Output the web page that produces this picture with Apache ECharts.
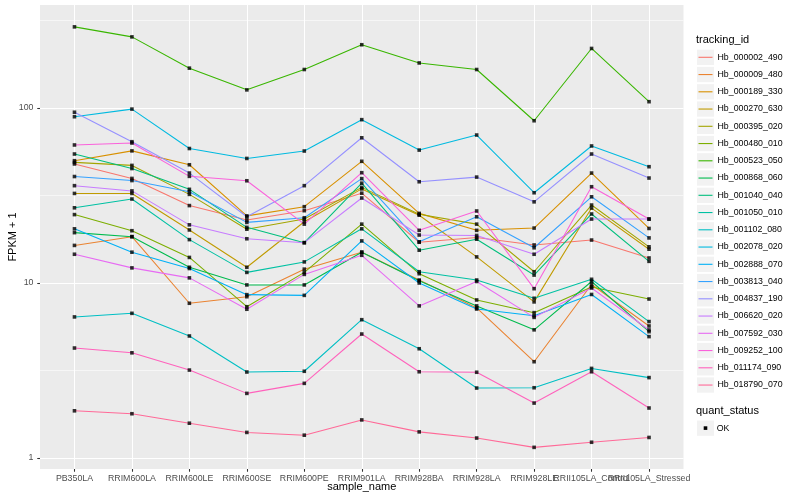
<!DOCTYPE html>
<html>
<head>
<meta charset="utf-8">
<script src="https://cdn.jsdelivr.net/npm/echarts@6/dist/echarts.min.js"></script>
<style>html,body{margin:0;padding:0;background:#fff}#c{width:800px;height:500px}</style>
</head>
<body>
<div id="c"></div>
<script>
const categories = ['PB350LA','RRIM600LA','RRIM600LE','RRIM600SE','RRIM600PE','RRIM901LA','RRIM928BA','RRIM928LA','RRIM928LE','RRII105LA_Control','RRII105LA_Stressed'];
const seriesNames = ['Hb_000002_490','Hb_000009_480','Hb_000189_330','Hb_000270_630','Hb_000395_020','Hb_000480_010','Hb_000523_050','Hb_000868_060','Hb_001040_040','Hb_001050_010','Hb_001102_080','Hb_002078_020','Hb_002888_070','Hb_003813_040','Hb_004837_190','Hb_006620_020','Hb_007592_030','Hb_009252_100','Hb_011174_090','Hb_018790_070'];
const yMajorTicks = [1, 10, 100];
const yMinorTicks = [3.1623, 31.623, 316.23];
const yTickLabels = ['1', '10', '100'];

const hb_000002_490 = [47.9, 39.6, 27.7, 22.9, 25.9, 32.6, 17.1, 18.2, 16.5, 17.6, 13.9];
const hb_000009_480 = [16.4, 18.4, 7.66, 8.35, 12.0, 15.0, 10.4, 7.2, 3.55, 9.8, 5.68];
const hb_000189_330 = [50.0, 56.9, 47.4, 24.2, 27.3, 49.6, 25.0, 20.0, 20.6, 42.5, 20.5];
const hb_000270_630 = [32.5, 32.5, 20.1, 12.3, 22.4, 34.5, 24.4, 14.1, 7.8, 26.8, 15.6];
const hb_000395_020 = [48.9, 47.0, 32.1, 20.3, 23.2, 35.2, 24.7, 21.7, 11.6, 27.9, 16.1];
const hb_000480_010 = [24.6, 19.9, 14.0, 7.32, 11.5, 21.7, 11.3, 8.0, 6.77, 9.5, 8.1];
const hb_000523_050 = [291, 255, 169, 127, 166, 230, 181, 166, 84.6, 219, 108.7];
const hb_000868_060 = [19.4, 18.4, 12.3, 9.75, 9.75, 15.0, 10.3, 7.4, 5.4, 10.2, 5.27];
const hb_001040_040 = [54.6, 45.1, 34.3, 20.8, 17.0, 37.2, 15.4, 17.8, 11.1, 24.8, 13.3];
const hb_001050_010 = [26.9, 30.2, 17.7, 11.5, 13.2, 20.4, 11.6, 10.4, 8.18, 10.5, 6.02];
const hb_001102_080 = [6.40, 6.71, 4.98, 3.10, 3.13, 6.17, 4.21, 2.51, 2.52, 3.25, 2.88];
const hb_002078_020 = [89.2, 98.6, 58.7, 51.5, 56.8, 85.8, 57.5, 70.1, 32.8, 60.7, 46.2];
const hb_002888_070 = [20.4, 15.0, 12.1, 8.58, 8.5, 17.4, 10.0, 7.1, 6.5, 8.6, 4.94];
const hb_003813_040 = [40.6, 38.5, 33.2, 22.2, 23.6, 39.5, 17.2, 23.9, 15.9, 31.1, 18.1];
const hb_004837_190 = [94.6, 64.2, 42.5, 23.9, 36.0, 67.6, 37.9, 40.3, 29.1, 54.6, 39.8];
const hb_006620_020 = [36.0, 33.6, 21.5, 17.9, 17.0, 30.6, 18.8, 18.7, 14.6, 23.2, 23.2];
const hb_007592_030 = [14.6, 12.2, 10.7, 7.08, 11.2, 14.4, 7.4, 10.2, 6.36, 9.36, 5.39];
const hb_009252_100 = [61.5, 63.1, 40.7, 38.4, 21.7, 42.7, 20.0, 25.8, 9.28, 35.5, 23.2];
const hb_011174_090 = [4.25, 3.99, 3.18, 2.34, 2.67, 5.11, 3.11, 3.09, 2.06, 3.11, 1.93];
const hb_018790_070 = [1.86, 1.79, 1.58, 1.40, 1.35, 1.65, 1.41, 1.30, 1.15, 1.23, 1.31];

const seriesValues = [hb_000002_490, hb_000009_480, hb_000189_330, hb_000270_630, hb_000395_020, hb_000480_010, hb_000523_050, hb_000868_060, hb_001040_040, hb_001050_010, hb_001102_080, hb_002078_020, hb_002888_070, hb_003813_040, hb_004837_190, hb_006620_020, hb_007592_030, hb_009252_100, hb_011174_090, hb_018790_070];

// ggplot2 hue palette (HCL, c=100, l=65)
function hcl(h, c, l) {
  const hr = h * Math.PI / 180;
  const U = c * Math.cos(hr), V = c * Math.sin(hr);
  const Xn = 95.047, Yn = 100, Zn = 108.883;
  const un = 4 * Xn / (Xn + 15 * Yn + 3 * Zn), vn = 9 * Yn / (Xn + 15 * Yn + 3 * Zn);
  const Y = l > 8 ? Yn * Math.pow((l + 16) / 116, 3) : Yn * l / 903.3;
  const u = U / (13 * l) + un, v = V / (13 * l) + vn;
  const X = 9 * Y * u / (4 * v);
  const Z = -X / 3 - 5 * Y + 3 * Y / v;
  const x = X / 100, y = Y / 100, z = Z / 100;
  const lin = [3.240479 * x - 1.537150 * y - 0.498535 * z,
               -0.969256 * x + 1.875992 * y + 0.041556 * z,
               0.055648 * x - 0.204043 * y + 1.057311 * z];
  return '#' + lin.map(t => {
    let g = t <= 0.0031308 ? 12.92 * t : 1.055 * Math.pow(t, 1 / 2.4) - 0.055;
    g = Math.round(Math.max(0, Math.min(1, g)) * 255);
    return g.toString(16).padStart(2, '0');
  }).join('');
}
const n = seriesNames.length;
const colors = seriesNames.map((_, i) => hcl(15 + 360 / n * i, 100, 65));

const FONT = "'Liberation Sans', Arial, Helvetica, sans-serif";
const PL = 40, PT = 5, PR = 683.5, PB = 469;
const LEG_X = 697, LEG_Y0 = 57.3, LEG_STEP = 17.25;

const lineSeries = seriesNames.map((name, s) => ({
  name: name,
  type: 'line',
  xAxisIndex: 0,
  yAxisIndex: 0,
  data: seriesValues[s].map((v, i) => [i, v]),
  color: colors[s],
  showSymbol: false,
  symbol: 'none',
  lineStyle: { width: 1.07, color: colors[s] },
  emphasis: { disabled: true },
  z: 2
}));
const pointData = [];
seriesValues.forEach(arr => arr.forEach((v, i) => pointData.push([i, v])));
const pointSeries = {
  name: 'OK',
  type: 'scatter',
  xAxisIndex: 0,
  yAxisIndex: 0,
  data: pointData,
  symbol: 'rect',
  symbolSize: 3.6,
  itemStyle: { color: '#000' },
  emphasis: { disabled: true },
  z: 3
};

const graphics = [
  { type: 'text', left: 696, top: 34, style: { text: 'tracking_id', font: '11px ' + FONT, fill: '#000' } },
  { type: 'text', x: 12.7, y: 237, rotation: Math.PI / 2, style: { text: 'FPKM + 1', font: '11px ' + FONT, fill: '#000', textAlign: 'center', textVerticalAlign: 'middle' } },
  { type: 'text', x: (PL + PR) / 2, y: 487, style: { text: 'sample_name', font: '11px ' + FONT, fill: '#000', textAlign: 'center', textVerticalAlign: 'middle' } },
  { type: 'text', left: 696, top: 405, style: { text: 'quant_status', font: '11px ' + FONT, fill: '#000' } },
  { type: 'rect', shape: { x: LEG_X, y: 420.5, width: 17, height: 15.3 }, style: { fill: '#F2F2F2' }, z: 0 },
  { type: 'rect', shape: { x: LEG_X + 8.5 - 1.8, y: 428.1 - 1.8, width: 3.6, height: 3.6 }, style: { fill: '#000' }, z: 1 },
  { type: 'text', x: 716.7, y: 428.1, style: { text: 'OK', font: '8.8px ' + FONT, fill: '#000', textVerticalAlign: 'middle' } }
];
seriesNames.forEach((_, i) => {
  graphics.push({ type: 'rect', shape: { x: LEG_X, y: LEG_Y0 + i * LEG_STEP - 7.65, width: 17, height: 15.3 }, style: { fill: '#F2F2F2' }, z: -1 });
});

const tickStyle = { show: true, inside: false, length: 2.75, lineStyle: { color: '#333333', width: 1.07 } };
// x labels split over two coincident axes so that overlapping neighbours are both drawn (as in the reference)
const xIdxA = categories.map((_, i) => i).filter(i => i !== 9);
const xIdxB = [9];
function makeXAxis(vals) {
  return {
    type: 'value', min: -0.6, max: 10.6, position: 'bottom', offset: 0,
    axisLine: { show: false, onZero: false },
    axisTick: Object.assign({}, tickStyle, { customValues: vals }),
    axisLabel: { customValues: vals, formatter: v => categories[Math.round(v)], fontSize: 8.8, color: '#4D4D4D', margin: 4.8, fontFamily: FONT, hideOverlap: false, showMinLabel: true, showMaxLabel: true },
    splitLine: { show: true, lineStyle: { color: '#FFFFFF', width: 1.07 } }
  };
}

const chart = echarts.init(document.getElementById('c'), null, { renderer: 'canvas' });
chart.setOption({
  animation: false,
  backgroundColor: '#fff',
  textStyle: { fontFamily: FONT },
  grid: { left: PL, top: PT, width: PR - PL, height: PB - PT, show: true, backgroundColor: '#EBEBEB', borderWidth: 0, containLabel: false },
  xAxis: [makeXAxis(xIdxA), makeXAxis(xIdxB)],
  yAxis: [{
    type: 'log', logBase: 10, min: 0.865, max: 388, position: 'left',
    axisLine: { show: false, onZero: false },
    axisTick: Object.assign({}, tickStyle, { customValues: yMajorTicks }),
    axisLabel: { customValues: yMajorTicks, formatter: v => yTickLabels[yMajorTicks.indexOf(Math.round(v))] || String(v), fontSize: 8.8, color: '#4D4D4D', margin: 6.5, fontFamily: FONT, showMinLabel: true, showMaxLabel: true },
    splitLine: { show: true, lineStyle: { color: '#FFFFFF', width: 1.07 } }
  }, {
    type: 'log', logBase: 10, min: 0.865, max: 388, position: 'left',
    axisLine: { show: false, onZero: false },
    axisTick: { show: false, customValues: yMinorTicks },
    axisLabel: { show: false, customValues: yMinorTicks },
    splitLine: { show: true, lineStyle: { color: '#FFFFFF', width: 0.55 } }
  }],
  legend: {
    orient: 'vertical', left: 698.5, top: LEG_Y0 - 6, padding: 0,
    itemWidth: 14, itemHeight: 1.1, itemGap: LEG_STEP - 12,
    icon: 'rect', selectedMode: false,
    data: seriesNames,
    textStyle: { fontSize: 8.8, lineHeight: 12, color: '#000', fontFamily: FONT }
  },
  graphic: graphics,
  series: lineSeries.concat([pointSeries])
});
</script>
</body>
</html>
